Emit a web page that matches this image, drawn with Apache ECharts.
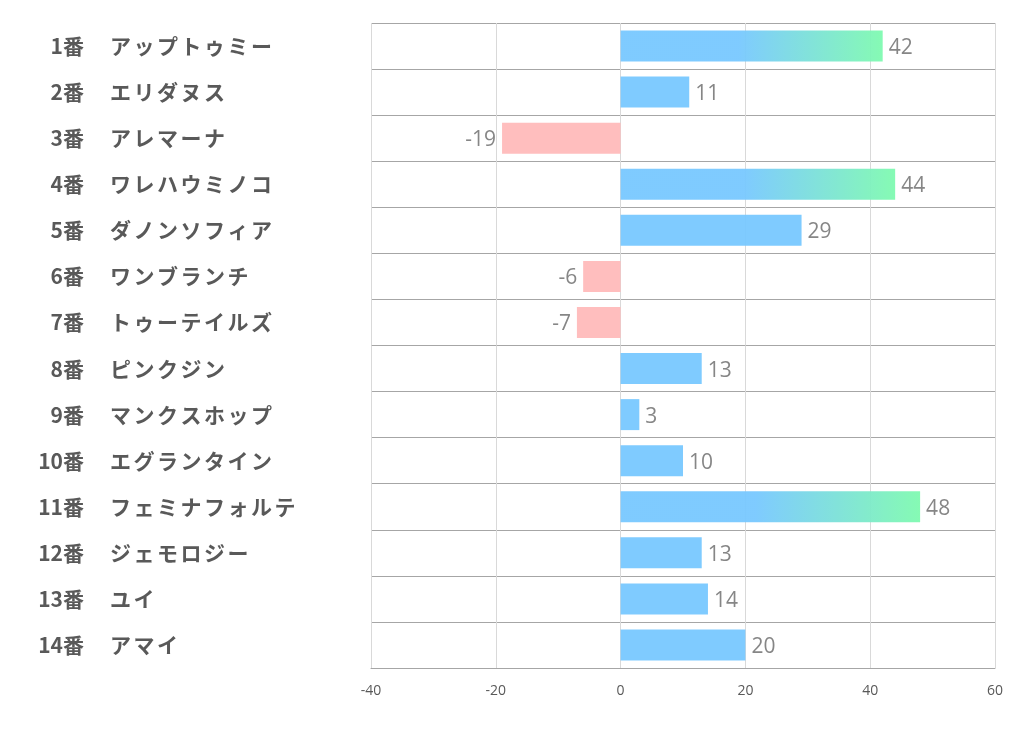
<!DOCTYPE html>
<html>
<head>
<meta charset="utf-8">
<script src="https://cdn.jsdelivr.net/npm/echarts@6/dist/echarts.min.js"></script>
<style>
html,body{margin:0;padding:0;background:#fff;}
#chart{width:1022px;height:730px;}
</style>
</head>
<body>
<div id="chart"></div>
<script>
const numbers = ["1番","2番","3番","4番","5番","6番","7番","8番","9番","10番","11番","12番","13番","14番"];
const names = ["アップトゥミー","エリダヌス","アレマーナ","ワレハウミノコ","ダノンソフィア","ワンブランチ","トゥーテイルズ","ピンクジン","マンクスホップ","エグランタイン","フェミナフォルテ","ジェモロジー","ユイ","アマイ"];
const values = [42, 11, -19, 44, 29, -6, -7, 13, 3, 10, 48, 13, 14, 20];
const xTicks = [-40, -20, 0, 20, 40, 60];

const BLUE = '#78c8ff';
const GREEN = '#7ffab0';
const PINK = '#ffbaba';

const seriesData = values.map(v => {
  let color;
  if (v < 0) color = PINK;
  else if (v >= 40) color = new echarts.graphic.LinearGradient(0, 0, 1, 0, [
    {offset: 0, color: BLUE}, {offset: 0.45, color: BLUE}, {offset: 1, color: GREEN}
  ]);
  else color = BLUE;
  return {
    value: v,
    itemStyle: {color: color, opacity: 0.95},
    label: {position: v < 0 ? 'left' : 'right'}
  };
});

const nameFont = {color: '#595959', fontSize: 21, fontWeight: 'bold', fontFamily: '"Noto Sans CJK JP", sans-serif', width: 23.5, align: 'left'};

const chart = echarts.init(document.getElementById('chart'));
chart.setOption({
  animation: false,
  backgroundColor: '#ffffff',
  grid: {left: 371, right: 27, top: 23, bottom: 62, containLabel: false},
  xAxis: {
    type: 'value',
    min: xTicks[0], max: xTicks[xTicks.length - 1], interval: 20,
    axisLine: {show: true, lineStyle: {color: '#a6a6a6', width: 1}},
    axisTick: {show: false},
    axisLabel: {color: '#595959', fontSize: 14, margin: 16, fontFamily: 'Open Sans, sans-serif'},
    splitLine: {show: true, lineStyle: {color: '#d9d9d9', width: 1}}
  },
  yAxis: [
    {
      type: 'category', inverse: true, data: numbers,
      axisLine: {show: false}, axisTick: {show: false},
      axisLabel: {align: 'right', margin: 287, color: '#595959', fontSize: 21, fontWeight: 'bold',
        fontFamily: '"Noto Sans CJK JP", sans-serif'},
      splitLine: {show: true, lineStyle: {color: '#a6a6a6', width: 1}}
    },
    {
      type: 'category', inverse: true, data: names, position: 'left',
      axisLine: {show: false}, axisTick: {show: false},
      axisLabel: {
        align: 'left', margin: 261,
        formatter: s => Array.from(s).map(ch => '{c|' + ch + '}').join(''),
        rich: {c: nameFont}
      },
      splitLine: {show: false}
    }
  ],
  series: [{
    type: 'bar',
    yAxisIndex: 0,
    data: seriesData,
    barWidth: 31,
    label: {show: true, distance: 6, offset: [0, 2], color: '#7f7f7f', fontSize: 21, fontFamily: 'Open Sans, sans-serif'}
  }]
});
</script>
</body>
</html>
